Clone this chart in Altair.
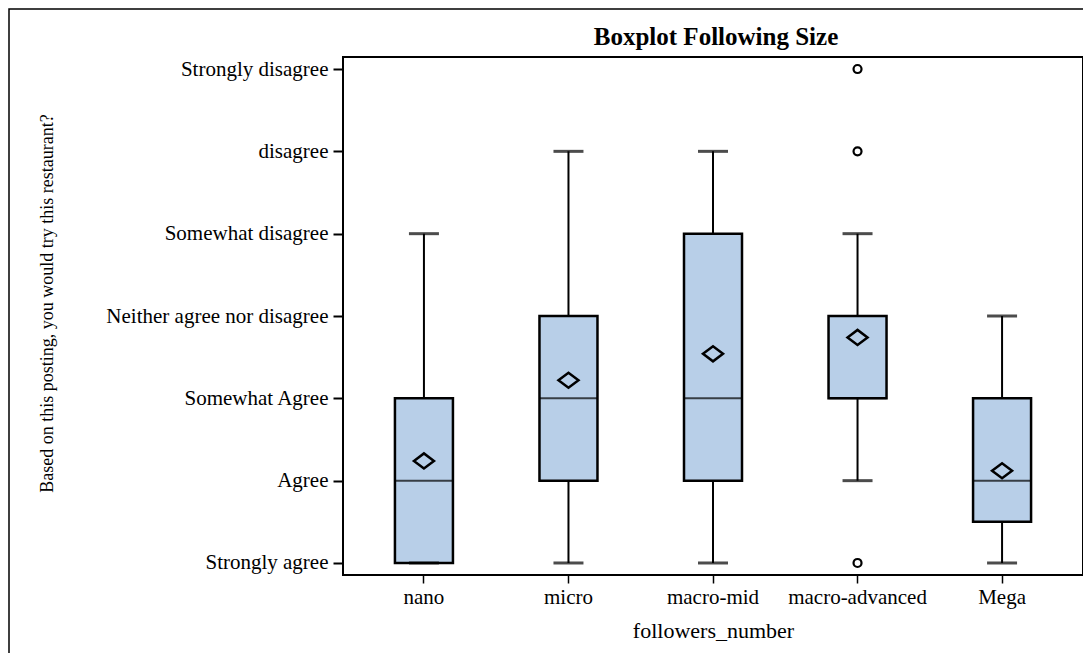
import altair as alt
import pandas as pd

groups = ["nano", "micro", "macro-mid", "macro-advanced", "Mega"]
whisker_low = [1, 1, 1, 2, 1]
q1 = [1, 2, 2, 3, 1.5]
median = [2, 3, 3, 3, 2]
q3 = [3, 4, 5, 4, 3]
whisker_high = [5, 6, 6, 5, 4]
means = [2.24, 3.22, 3.54, 3.74, 2.12]

outlier_groups = ["macro-advanced", "macro-advanced", "macro-advanced"]
outlier_values = [7, 6, 1]

y_labels = ["Strongly agree", "Agree", "Somewhat Agree", "Neither agree nor disagree",
            "Somewhat disagree", "disagree", "Strongly disagree"]

chart_title = ["Boxplot Following Size"]

FONT = "Liberation Serif"

df = pd.DataFrame({"g": groups, "lo": whisker_low, "q1": q1, "med": median,
                   "q3": q3, "hi": whisker_high, "mean": means})
out = pd.DataFrame({"g": outlier_groups, "v": outlier_values})
tdf = pd.DataFrame({"t": chart_title})

label_expr = "[" + ",".join("'" + s + "'" for s in y_labels) + "][datum.value-1]"

xenc = alt.X("g:N", sort=groups, title="followers_number",
             scale=alt.Scale(paddingInner=0, paddingOuter=0.06),
             axis=alt.Axis(labelAngle=0, labelFont=FONT, labelFontSize=21, labelColor="black",
                           titleFont=FONT, titleFontSize=22, titleFontWeight="normal",
                           titleColor="black", tickColor="black", tickWidth=1.5, tickSize=8,
                           domain=False, labelPadding=3, titlePadding=13, labelLimit=400))
yscale = alt.Scale(domain=[0.854, 7.146], nice=False, zero=False)
yaxis = alt.Axis(values=list(range(1, 8)), labelExpr=label_expr, grid=False, labelLimit=400,
                 labelFont=FONT, labelFontSize=21, labelColor="black",
                 titleFont=FONT, titleFontSize=18, titleFontWeight="normal", titleColor="black",
                 tickColor="black", tickWidth=2, tickSize=10, domain=False, labelPadding=5,
                 titleX=-287, titleY=246, titleAngle=-90, titleAlign="center", titleBaseline="bottom")
ytitle = "Based on this posting, you would try this restaurant?"

base = alt.Chart(df)

whisk = base.mark_rule(color="black", strokeWidth=2).encode(
    x=xenc, y=alt.Y("lo:Q", scale=yscale, axis=yaxis, title=ytitle), y2="hi:Q")
box = base.mark_bar(size=58, fill="#b8cfe8", stroke="black", strokeWidth=2.5).encode(
    x=alt.X("g:N", sort=groups), y=alt.Y("q1:Q", scale=yscale), y2="q3:Q")
med = base.mark_tick(size=58, thickness=2, color="black").encode(
    x=alt.X("g:N", sort=groups), y=alt.Y("med:Q", scale=yscale))
cap_lo = base.mark_tick(size=30, thickness=3, color="black").encode(
    x=alt.X("g:N", sort=groups), y=alt.Y("lo:Q", scale=yscale))
cap_hi = base.mark_tick(size=30, thickness=3, color="black").encode(
    x=alt.X("g:N", sort=groups), y=alt.Y("hi:Q", scale=yscale))
mean_pt = base.mark_point(shape="M-1,0L0,-0.75L1,0L0,0.75Z", size=400, filled=False,
                          stroke="black", strokeWidth=2.5, opacity=1).encode(
    x=alt.X("g:N", sort=groups), y=alt.Y("mean:Q", scale=yscale))
outl = alt.Chart(out).mark_point(shape="circle", size=64, filled=False, stroke="black",
                                 strokeWidth=2.2, opacity=1).encode(
    x=alt.X("g:N", sort=groups), y=alt.Y("v:Q", scale=yscale))
frame = alt.Chart(pd.DataFrame({"a": [0]})).mark_rect(fill=None, stroke="black", strokeWidth=1.5).encode(
    x=alt.value(-334), x2=alt.value(900), y=alt.value(-48), y2=alt.value(800))
title_txt = alt.Chart(tdf).mark_text(font=FONT, fontSize=25, fontWeight="bold", color="black",
                                     align="center", baseline="alphabetic").encode(
    text="t:N", x=alt.value(373), y=alt.value(-12))

chart = alt.layer(frame, whisk, box, med, cap_lo, cap_hi, mean_pt, outl, title_txt).properties(
    width=740, height=518,
    autosize=alt.AutoSizeParams(type="none"),
    padding={"left": 335, "top": 49, "right": 0, "bottom": 78},
).configure_view(stroke="black", strokeWidth=2)

chart.save("out.html", embed_options={"renderer": "svg", "actions": False})
